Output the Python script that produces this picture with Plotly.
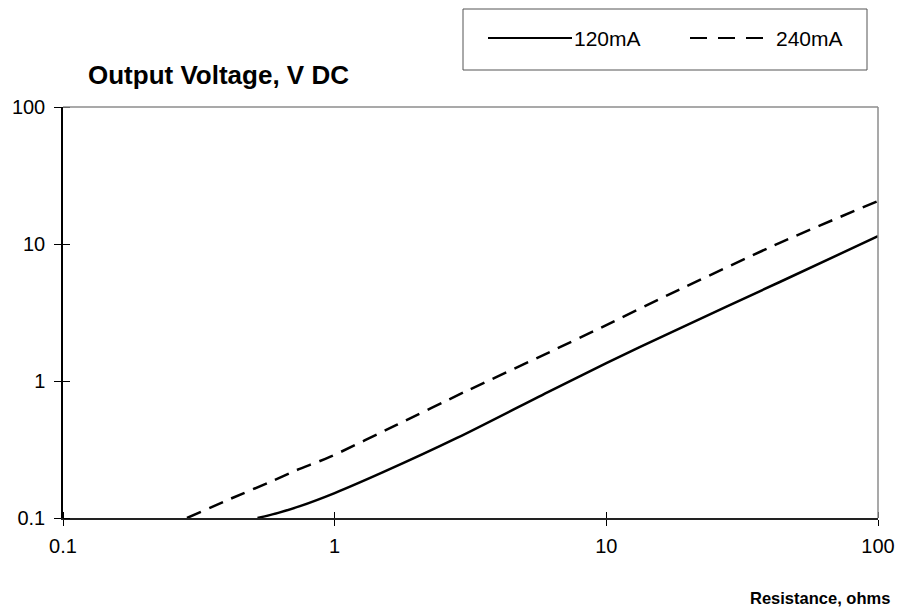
import plotly.graph_objects as go

# Data (log-log)
res_120 = [0.52, 0.62, 0.745, 1.0, 1.5, 2.82, 6.2, 10.0, 17.1, 43.5, 100.0]
volt_120 = [0.1, 0.109, 0.122, 0.152, 0.215, 0.384, 0.845, 1.35, 2.24, 5.28, 11.4]

res_240 = [0.286, 0.42, 0.578, 0.726, 0.96, 1.69, 3.0, 6.2, 10.0, 16.9, 43.5, 100.0]
volt_240 = [0.1, 0.14, 0.183, 0.224, 0.279, 0.478, 0.83, 1.63, 2.56, 4.25, 10.2, 20.6]

x_ticks = [0.1, 1, 10, 100]
x_labels = ["0.1", "1", "10", "100"]
y_ticks = [0.1, 1, 10, 100]
y_labels = ["0.1", "1", "10", "100"]

series_names = ["120mA", "240mA"]

FONT = "Liberation Sans, Arial, sans-serif"

fig = go.Figure()
fig.add_trace(go.Scatter(x=res_120, y=volt_120, mode="lines", name=series_names[0],
                         line=dict(color="black", width=2.5, shape="spline", smoothing=0.7),
                         showlegend=False))
fig.add_trace(go.Scatter(x=res_240, y=volt_240, mode="lines", name=series_names[1],
                         line=dict(color="black", width=2.5, dash="15px,9px",
                                   shape="spline", smoothing=0.7),
                         showlegend=False))

# page is offset by 8px body margin
OFF = 8
W, H = 903 - OFF, 612 - OFF
L, R, T, B = 63, 878, 107, 518  # page coordinates of plot area
pw, ph = R - L, B - T


def px(x):
    return (x - L) / pw


def py(y):
    return (B - y) / ph


fig.update_layout(
    width=W, height=H,
    margin=dict(l=L - OFF, r=W - (R - OFF), t=T - OFF, b=H - (B - OFF), autoexpand=False),
    paper_bgcolor="white", plot_bgcolor="white",
    font=dict(family=FONT, size=20, color="black"),
    showlegend=False,
)

fig.update_xaxes(
    type="log", range=[-1, 2], showgrid=False, zeroline=False, automargin=False,
    showline=True, linecolor="#222", linewidth=1.5,
    tickmode="array", tickvals=x_ticks, ticktext=x_labels,
    ticks="outside", ticklen=6, tickcolor="black", tickwidth=1,
    ticklabelstandoff=3,
    minor=dict(ticks="inside", tickmode="array", tickvals=x_ticks, ticklen=6,
               tickcolor="black", tickwidth=1, showgrid=False),
    tickfont=dict(family=FONT, size=20),
)
fig.update_yaxes(
    type="log", range=[-1, 2], showgrid=False, zeroline=False, automargin=False,
    showline=True, linecolor="black", linewidth=1.5,
    tickmode="array", tickvals=y_ticks, ticktext=y_labels,
    ticks="outside", ticklen=7, tickcolor="black", tickwidth=1,
    ticklabelstandoff=5,
    minor=dict(ticks="inside", tickmode="array", tickvals=y_ticks, ticklen=7,
               tickcolor="black", tickwidth=1, showgrid=False),
    tickfont=dict(family=FONT, size=20),
)

shapes = []
# top and right borders (gray)
shapes.append(dict(type="line", xref="paper", yref="paper", x0=0, x1=1, y0=1, y1=1,
                   line=dict(color="#8c8c8c", width=1.5)))
shapes.append(dict(type="line", xref="paper", yref="paper", x0=1, x1=1, y0=0, y1=1,
                   line=dict(color="#8c8c8c", width=1.5)))
# legend box
shapes.append(dict(type="rect", xref="paper", yref="paper",
                   x0=px(463), x1=px(867), y0=py(70), y1=py(9),
                   line=dict(color="#555", width=1), fillcolor="white"))
shapes.append(dict(type="line", xref="paper", yref="paper",
                   x0=px(488), x1=px(572), y0=py(38), y1=py(38),
                   line=dict(color="black", width=2)))
shapes.append(dict(type="line", xref="paper", yref="paper",
                   x0=px(690), x1=px(768), y0=py(38), y1=py(38),
                   line=dict(color="black", width=2, dash="17px,11px")))
fig.update_layout(shapes=shapes)

ann = []
ann.append(dict(text=series_names[0], xref="paper", yref="paper", x=px(572), y=py(38),
                xanchor="left", yanchor="middle", showarrow=False,
                font=dict(family=FONT, size=21)))
ann.append(dict(text=series_names[1], xref="paper", yref="paper", x=px(774), y=py(38),
                xanchor="left", yanchor="middle", showarrow=False,
                font=dict(family=FONT, size=21)))
ann.append(dict(text="<b>Output Voltage, V DC</b>", xref="paper", yref="paper",
                x=px(86), y=py(75), xanchor="left", yanchor="middle", showarrow=False,
                font=dict(family=FONT, size=26)))
ann.append(dict(text="<b>Resistance, ohms</b>", xref="paper", yref="paper",
                x=px(748), y=py(598), xanchor="left", yanchor="middle", showarrow=False,
                font=dict(family=FONT, size=16.5)))
fig.update_layout(annotations=ann)

fig.write_html("out.html")
